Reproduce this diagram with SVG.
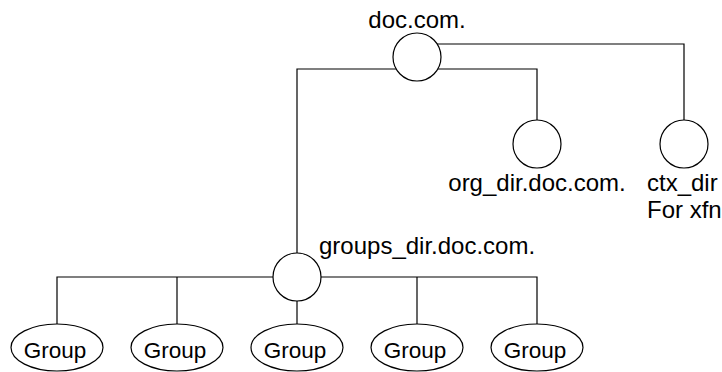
<svg xmlns="http://www.w3.org/2000/svg" width="722" height="372" viewBox="0 0 722 372">
<style>
.n{fill:#fff;stroke:#000;stroke-width:1.2}
.c{fill:none;stroke:#000;stroke-width:1.2}
text{font-family:"Liberation Sans",Arial,sans-serif;font-size:24px;fill:#000}
.m{text-anchor:middle}
.g{font-size:22.5px}
</style>
<rect width="722" height="372" fill="#fff"/>
<g id="connectors">
<polyline class="c" points="437,44 684,44 684,120"/>
<polyline class="c" points="396,69 297,69 297,253"/>
<polyline class="c" points="438,69 537,69 537,120"/>
<polyline class="c" points="273,277 57,277 57,324"/>
<polyline class="c" points="321,277 537,277 537,324"/>
<line class="c" x1="177" y1="277" x2="177" y2="324"/>
<line class="c" x1="417" y1="277" x2="417" y2="324"/>
<line class="c" x1="297" y1="301" x2="297" y2="324"/>
</g>
<g id="doc">
<circle class="n" cx="417" cy="57" r="24"/>
<text class="m" x="417" y="27.5">doc.com.</text>
</g>
<g id="org_dir">
<circle class="n" cx="537" cy="144" r="24"/>
<text class="m" x="537" y="191">org_dir.doc.com.</text>
</g>
<g id="ctx_dir">
<circle class="n" cx="684" cy="144" r="24"/>
<text x="647" y="191">ctx_dir</text>
<text x="647" y="218">For xfn</text>
</g>
<g id="groups_dir">
<circle class="n" cx="297" cy="277" r="24"/>
<text x="319" y="254">groups_dir.doc.com.</text>
</g>
<g id="group1"><ellipse class="n" cx="57" cy="347.5" rx="46" ry="23.5"/><text class="m g" x="55" y="358">Group</text></g>
<g id="group2"><ellipse class="n" cx="177" cy="347.5" rx="46" ry="23.5"/><text class="m g" x="175" y="358">Group</text></g>
<g id="group3"><ellipse class="n" cx="297" cy="347.5" rx="46" ry="23.5"/><text class="m g" x="295" y="358">Group</text></g>
<g id="group4"><ellipse class="n" cx="417" cy="347.5" rx="46" ry="23.5"/><text class="m g" x="415" y="358">Group</text></g>
<g id="group5"><ellipse class="n" cx="537" cy="347.5" rx="46" ry="23.5"/><text class="m g" x="535" y="358">Group</text></g>
</svg>
